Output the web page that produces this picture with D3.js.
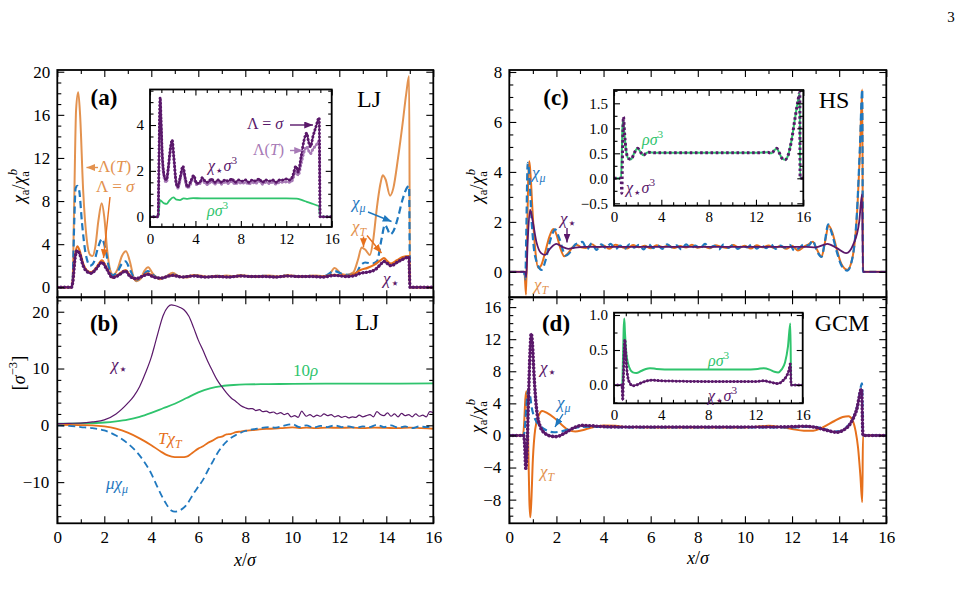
<!DOCTYPE html>
<html><head><meta charset="utf-8">
<script src="https://cdn.jsdelivr.net/npm/d3@7"></script>
<style>body{margin:0;background:#fff}</style>
</head><body><svg id="c" width="965" height="611"></svg>
<script>
// ---------------- DATA ----------------
// Panel (a) LJ, chi_a / chi_a^b
const aLamT = [[0,0],[0.6,0],[0.65,0.5],[0.72,8],[0.8,16.5],[0.89,18.1],[0.97,16],[1.1,9],[1.25,4.5],[1.4,3.0],[1.5,2.9],[1.62,3.8],[1.75,6.2],[1.89,7.8],[2.0,6.5],[2.12,3.5],[2.25,1.6],[2.38,1.15],[2.55,1.6],[2.75,2.9],[2.92,3.34],[3.1,2.3],[3.25,0.9],[3.38,0.56],[3.55,0.8],[3.7,1.5],[3.87,1.86],[4.05,1.3],[4.37,0.75],[4.6,0.95],[4.9,1.35],[5.2,1.0],[5.5,0.9],[5.9,1.15],[6.3,1.0],[6.8,0.95],[7.2,1.1],[7.6,1.0],[8.0,1.05],[8.5,0.95],[9,1.1],[9.5,1.0],[10,1.05],[10.5,1.0],[11,1.1],[11.5,1.0],[11.8,1.8],[12.05,1.3],[12.3,1.15],[12.6,1.4],[12.8,2.6],[12.95,3.7],[13.1,3.5],[13.3,3.0],[13.45,4.5],[13.6,7.4],[13.75,9.6],[13.85,10.4],[13.97,10.0],[14.16,8.5],[14.3,9.2],[14.5,12],[14.7,15.3],[14.85,18],[14.97,19.6],[15.01,0],[16,0]];
const aSigT = [[0,0],[0.6,0],[0.66,0.5],[0.75,2.8],[0.85,3.8],[0.95,3.4],[1.1,2.2],[1.3,1.5],[1.45,1.4],[1.65,1.8],[1.9,2.5],[2.1,1.8],[2.35,0.9],[2.6,1.2],[2.9,1.6],[3.1,1.1],[3.35,0.7],[3.6,1.0],[3.85,1.3],[4.1,1.0],[4.4,0.85],[4.9,1.15],[5.3,0.95],[5.8,1.1],[6.3,0.95],[6.8,1.05],[7.3,0.95],[7.8,1.1],[8.3,1.0],[8.8,1.05],[9.3,0.95],[9.8,1.1],[10.3,1.0],[10.8,1.05],[11.3,1.0],[11.8,1.15],[12.3,1.05],[12.6,1.2],[12.9,1.6],[13.2,1.8],[13.5,2.1],[13.75,2.5],[13.9,2.7],[14.05,2.4],[14.2,2.2],[14.45,2.5],[14.7,2.8],[14.96,2.9],[15.01,0],[16,0]];
const aMu = [[0,0],[0.6,0],[0.65,0.5],[0.72,6],[0.78,9.2],[0.85,9.4],[0.93,9.0],[1.05,6.0],[1.2,3.2],[1.4,2.0],[1.55,2.3],[1.75,3.8],[1.9,4.5],[2.05,3.5],[2.2,1.8],[2.35,1.1],[2.55,1.4],[2.75,2.2],[2.9,2.4],[3.1,1.6],[3.35,0.65],[3.6,1.0],[3.85,1.5],[4.1,1.1],[4.4,0.8],[4.9,1.2],[5.3,0.95],[5.8,1.1],[6.3,0.95],[6.8,1.05],[7.3,0.95],[7.8,1.1],[8.3,1.0],[8.8,1.05],[9.3,0.95],[9.8,1.1],[10.3,1.0],[10.8,1.05],[11.3,1.0],[11.8,1.5],[12.1,1.25],[12.4,1.15],[12.7,1.25],[12.9,2.0],[13.1,2.3],[13.4,2.2],[13.6,2.4],[13.8,4.5],[13.94,5.8],[14.05,5.4],[14.16,4.9],[14.3,5.2],[14.5,6.5],[14.7,8.2],[14.9,9.3],[14.97,9.4],[15.01,0],[16,0]];
const aStar = [[0,0],[0.6,0],[0.66,0.5],[0.75,2.6],[0.85,3.4],[0.95,3.1],[1.1,2.0],[1.3,1.4],[1.45,1.3],[1.65,1.7],[1.9,2.3],[2.1,1.7],[2.35,0.9],[2.6,1.1],[2.9,1.5],[3.1,1.0],[3.35,0.8],[3.6,1.0],[3.85,1.2],[4.1,0.95],[4.4,0.85],[4.9,1.1],[5.3,0.95],[5.8,1.05],[6.3,0.95],[6.8,1.0],[7.3,0.95],[7.8,1.05],[8.3,1.0],[8.8,1.0],[9.3,0.95],[9.8,1.05],[10.3,1.0],[10.8,1.0],[11.3,0.95],[11.8,1.1],[12.3,1.0],[12.6,1.05],[12.9,1.3],[13.2,1.4],[13.5,1.6],[13.75,2.1],[13.9,2.4],[14.05,2.2],[14.2,2.0],[14.45,2.3],[14.7,2.6],[14.96,2.8],[15.01,0],[16,0]];
// Inset (a)
const insASig = [[0,0],[0.72,0],[0.78,2],[0.85,4.5],[0.9,5.2],[0.97,4.3],[1.1,2.5],[1.3,1.7],[1.45,1.6],[1.6,2.1],[1.8,3.0],[1.95,3.35],[2.1,2.6],[2.3,1.5],[2.45,1.3],[2.65,1.7],[2.9,2.2],[3.1,1.7],[3.3,1.3],[3.55,1.5],[3.85,1.8],[4.1,1.45],[4.4,1.5],[4.6,1.7],[4.85,1.55],[5.1,1.5],[5.4,1.65],[5.7,1.5],[6,1.6],[6.3,1.5],[6.6,1.6],[6.9,1.55],[7.2,1.65],[7.5,1.5],[7.8,1.6],[8.1,1.55],[8.4,1.6],[8.7,1.5],[9,1.6],[9.3,1.55],[9.6,1.65],[9.9,1.5],[10.2,1.6],[10.5,1.55],[10.8,1.6],[11.1,1.5],[11.4,1.6],[11.7,1.6],[12.0,1.65],[12.3,1.6],[12.55,1.75],[12.85,2.2],[13.05,1.95],[13.3,2.6],[13.55,3.3],[13.8,3.65],[13.95,3.3],[14.13,3.05],[14.35,3.5],[14.6,3.9],[14.9,4.32],[14.98,0],[16,0]];
const insALamT = [[0,0],[0.72,0],[0.78,1.9],[0.85,4.3],[0.9,5.0],[0.97,4.1],[1.1,2.4],[1.3,1.6],[1.45,1.5],[1.6,2.0],[1.8,2.85],[1.95,3.2],[2.1,2.5],[2.3,1.45],[2.45,1.25],[2.65,1.6],[2.9,2.05],[3.1,1.6],[3.3,1.25],[3.55,1.4],[3.85,1.7],[4.1,1.4],[4.4,1.45],[4.6,1.6],[4.85,1.45],[5.1,1.4],[5.4,1.55],[5.7,1.42],[6,1.5],[6.3,1.42],[6.6,1.5],[6.9,1.45],[7.2,1.55],[7.5,1.42],[7.8,1.5],[8.1,1.45],[8.4,1.5],[8.7,1.42],[9,1.5],[9.3,1.45],[9.6,1.55],[9.9,1.42],[10.2,1.5],[10.5,1.45],[10.8,1.5],[11.1,1.42],[11.4,1.5],[11.7,1.5],[12.0,1.52],[12.3,1.5],[12.55,1.6],[12.85,2.0],[13.05,1.8],[13.3,2.3],[13.55,2.8],[13.8,3.05],[13.95,2.9],[14.13,2.75],[14.35,2.95],[14.6,3.1],[14.9,3.3],[14.98,0],[16,0]];
const insARho = [[0,0],[0.76,0],[0.82,0.45],[0.88,0.72],[1.0,0.68],[1.25,0.58],[1.47,0.56],[1.7,0.7],[2.05,0.84],[2.35,0.74],[2.64,0.72],[2.95,0.8],[3.3,0.78],[3.8,0.81],[4.5,0.8],[6,0.8],[8,0.8],[10,0.8],[12,0.8],[12.9,0.79],[13.4,0.72],[13.8,0.65],[14.2,0.58],[14.67,0.5],[14.88,0.45],[14.96,0],[16,0]];
// Panel (b) LJ, [sigma^-3]
const bStar = [[0,0.3],[0.5,0.35],[1,0.4],[1.5,0.6],[2,0.95],[2.5,2.0],[3,3.9],[3.25,5.1],[3.5,6.8],[3.75,9.2],[4,12.0],[4.15,14.2],[4.3,16.5],[4.5,19.3],[4.7,20.8],[4.85,21.2],[5.0,21.1],[5.2,20.8],[5.4,20.3],[5.6,19.2],[5.8,17.2],[6.0,15.0],[6.2,13.2],[6.4,11.3],[6.6,9.6],[6.8,8.0],[7.0,6.8],[7.2,5.7],[7.4,4.8],[7.6,4.2],[7.8,3.5],[8.0,3.1],[8.15,2.9],[8.3,2.95],[8.45,2.6],[8.6,2.75],[8.75,2.4],[8.9,2.5],[9.05,2.2],[9.2,2.35],[9.35,2.0],[9.5,2.25],[9.65,1.9],[9.8,2.1],[9.95,1.5],[10.1,1.7],[10.25,1.4],[10.4,2.5],[10.5,2.0],[10.6,1.6],[10.75,1.9],[10.9,1.5],[11.05,1.8],[11.2,1.6],[11.35,2.0],[11.5,1.7],[11.65,1.9],[11.8,1.5],[11.95,1.7],[12.1,1.4],[12.25,1.6],[12.4,1.3],[12.55,1.5],[12.7,1.4],[12.85,1.8],[13.0,1.5],[13.15,1.7],[13.3,1.9],[13.45,1.5],[13.6,2.4],[13.75,1.9],[13.9,1.7],[14.05,2.2],[14.2,1.6],[14.35,2.0],[14.5,1.5],[14.65,2.1],[14.8,1.7],[14.95,1.9],[15.1,1.5],[15.25,2.0],[15.4,1.6],[15.55,1.8],[15.7,1.5],[15.85,2.4],[16,2.2]];
const bRho10 = [[0,0.3],[1,0.35],[2,0.5],[2.5,0.7],[3,1.0],[3.5,1.5],[4,2.2],[4.5,3.0],[5,3.8],[5.5,4.8],[6,5.8],[6.5,6.5],[7,6.9],[7.5,7.1],[8,7.2],[9,7.25],[10,7.3],[12,7.35],[14,7.35],[16,7.4]];
const bTchi = [[0,0.1],[1,0.05],[1.5,0],[2,-0.2],[2.5,-0.6],[3,-1.3],[3.5,-2.3],[4,-3.5],[4.4,-4.6],[4.7,-5.3],[5,-5.6],[5.3,-5.6],[5.5,-5.5],[5.7,-5.0],[6.0,-4.1],[6.2,-3.7],[6.4,-3.1],[6.6,-2.7],[6.8,-2.2],[7.0,-2.0],[7.2,-1.6],[7.4,-1.5],[7.6,-1.2],[7.8,-1.1],[8.0,-0.95],[8.3,-0.85],[8.6,-0.7],[9,-0.6],[9.5,-0.5],[10,-0.35],[10.3,-0.5],[10.6,-0.4],[11,-0.5],[11.5,-0.4],[12,-0.45],[12.5,-0.4],[13,-0.5],[13.5,-0.4],[14,-0.45],[14.5,-0.5],[15,-0.4],[15.5,-0.5],[16,-0.6]];
const bMuChi = [[0,0],[0.5,-0.1],[1,-0.3],[1.5,-0.5],[2,-0.9],[2.5,-1.8],[3,-3.2],[3.5,-5.3],[4,-8.5],[4.3,-11.2],[4.6,-13.6],[4.85,-15.0],[5.0,-15.2],[5.2,-15.0],[5.5,-14.0],[5.8,-12.0],[6.0,-10.8],[6.2,-9.6],[6.4,-8.0],[6.6,-6.5],[6.8,-5.0],[7.0,-3.8],[7.3,-2.5],[7.6,-1.7],[8,-1.0],[8.5,-0.6],[9,-0.3],[9.3,-0.4],[9.6,-0.1],[10,0.2],[10.3,-0.3],[10.6,0.0],[10.9,-0.4],[11.2,-0.1],[11.5,-0.3],[11.8,0.0],[12.1,-0.3],[12.4,-0.2],[12.7,-0.4],[13.0,-0.2],[13.3,-0.3],[13.6,0.1],[13.9,-0.3],[14.2,0.0],[14.5,-0.4],[14.8,-0.2],[15.1,-0.5],[15.4,-0.2],[15.7,-0.3],[16,-0.1]];
// Panel (c) HS
const cT = [[0,0],[0.64,0],[0.71,-0.92],[0.76,1.5],[0.8,3.6],[0.85,4.43],[0.9,3.9],[1.0,2.2],[1.1,0.9],[1.23,0.15],[1.35,0.25],[1.5,0.7],[1.7,1.4],[1.87,1.71],[2.0,1.5],[2.15,1.0],[2.33,0.62],[2.5,0.75],[2.7,1.0],[2.86,1.08],[3.05,0.98],[3.25,0.95],[3.5,1.1],[3.75,0.97],[4.0,1.05],[4.25,0.92],[4.5,1.08],[4.75,1.0],[5.0,0.93],[5.25,1.07],[5.5,0.98],[5.75,1.04],[6.0,0.94],[6.25,1.06],[6.5,0.99],[6.75,1.05],[7.0,0.95],[7.25,1.03],[7.5,0.97],[7.75,1.08],[8.0,0.96],[8.25,1.02],[8.5,0.94],[8.75,1.06],[9.0,1.0],[9.25,0.95],[9.5,1.07],[9.75,0.97],[10.0,1.04],[10.25,0.93],[10.5,1.06],[10.75,0.98],[11.0,1.05],[11.25,0.95],[11.5,1.03],[11.75,0.92],[12.0,1.04],[12.25,0.85],[12.5,1.0],[12.7,1.1],[12.88,1.2],[13.05,0.9],[13.25,0.6],[13.4,1.2],[13.55,1.85],[13.7,1.6],[13.9,0.9],[14.1,0.3],[14.35,0.08],[14.55,0.5],[14.75,2.2],[14.88,4.8],[14.98,7.3],[15.01,0],[16,0]];
const cMu = [[0,0],[0.62,0],[0.68,-0.3],[0.72,1.5],[0.78,4.36],[0.84,4.0],[0.95,2.0],[1.1,0.6],[1.37,0.08],[1.55,0.5],[1.75,1.3],[1.95,1.7],[2.1,1.4],[2.4,0.65],[2.6,0.8],[2.8,1.1],[2.95,1.15],[3.1,1.2],[3.3,0.9],[3.5,1.15],[3.7,0.88],[3.9,1.1],[4.1,0.95],[4.3,1.12],[4.5,0.9],[4.7,1.05],[4.9,0.92],[5.1,1.1],[5.3,0.97],[5.5,1.08],[5.7,0.9],[5.9,1.12],[6.1,0.95],[6.3,1.05],[6.5,0.92],[6.7,1.1],[6.9,0.98],[7.1,1.06],[7.3,0.9],[7.5,1.1],[7.7,0.95],[7.9,1.05],[8.1,0.93],[8.3,1.12],[8.5,0.97],[8.7,1.04],[8.9,0.9],[9.1,1.1],[9.3,0.96],[9.5,1.08],[9.7,0.92],[9.9,1.05],[10.1,0.98],[10.3,1.1],[10.5,0.93],[10.7,1.06],[10.9,0.95],[11.1,1.1],[11.3,0.92],[11.5,1.05],[11.7,0.97],[11.9,1.08],[12.1,0.85],[12.3,0.95],[12.5,1.1],[12.7,1.05],[12.88,1.25],[13.05,0.85],[13.25,0.6],[13.4,1.25],[13.53,1.9],[13.7,1.5],[13.9,0.8],[14.1,0.25],[14.35,0.05],[14.55,0.5],[14.75,2.3],[14.88,5.0],[14.98,7.3],[15.01,0],[16,0]];
const cStar = [[0,0],[0.68,0],[0.72,-0.2],[0.78,1.2],[0.88,2.49],[0.98,2.1],[1.15,1.2],[1.35,0.75],[1.52,0.68],[1.75,0.95],[2.0,1.12],[2.25,1.0],[2.5,0.92],[2.8,0.97],[3.2,1.0],[4,1.0],[6,1.0],[8,1.0],[10,1.0],[12,1.0],[12.6,1.0],[13.0,0.98],[13.5,1.12],[13.9,0.95],[14.3,0.75],[14.6,1.1],[14.85,2.0],[14.97,3.1],[15.01,0],[16,0]];
// Inset (c)
const insCRho = [[0,0],[0.6,0],[0.66,0.5],[0.72,1.05],[0.79,1.15],[0.86,0.95],[1.0,0.6],[1.2,0.4],[1.45,0.38],[1.7,0.5],[2.0,0.6],[2.25,0.52],[2.48,0.46],[2.7,0.5],[2.9,0.52],[3.5,0.51],[6,0.51],[9,0.51],[12,0.51],[13.0,0.52],[13.3,0.5],[13.55,0.56],[13.75,0.6],[13.95,0.52],[14.2,0.4],[14.45,0.37],[14.7,0.45],[15.0,0.75],[15.3,1.2],[15.55,1.55],[15.7,1.7],[15.73,0],[16,0]];
const insCStar = [[0,0],[0.6,0],[0.66,-0.3],[0.72,0.5],[0.8,1.23],[0.88,0.95],[1.0,0.6],[1.2,0.4],[1.45,0.38],[1.7,0.5],[2.0,0.6],[2.25,0.52],[2.48,0.46],[2.7,0.5],[2.9,0.52],[3.5,0.51],[6,0.51],[9,0.51],[12,0.51],[13.0,0.52],[13.3,0.5],[13.55,0.56],[13.75,0.6],[13.95,0.52],[14.2,0.4],[14.45,0.37],[14.7,0.45],[15.0,0.75],[15.3,1.2],[15.55,1.55],[15.7,1.72],[15.73,0],[16,0]];
// Panel (d) GCM
const dT = [[0,0],[0.58,0],[0.63,1.5],[0.68,4.5],[0.73,5.5],[0.77,3.5],[0.81,-2.0],[0.85,-8.0],[0.89,-10.2],[0.93,-8.5],[1.0,-3.0],[1.1,0.8],[1.25,2.5],[1.4,3.05],[1.6,2.8],[1.9,2.2],[2.2,1.4],[2.5,0.7],[2.8,0.5],[3.1,0.65],[3.5,1.0],[4.0,1.25],[4.5,1.2],[5,1.05],[6,1.0],[8,1.0],[10,1.0],[10.5,1.1],[11.0,1.2],[11.5,1.05],[12.0,0.8],[12.5,0.6],[12.9,0.6],[13.3,1.0],[13.8,1.8],[14.15,2.3],[14.4,2.4],[14.55,2.0],[14.7,0.5],[14.8,-1.5],[14.9,-5.0],[14.98,-8.3],[15.01,0],[16,0]];
const dMu = [[0,0],[0.6,0],[0.65,0.5],[0.72,3.5],[0.8,5.6],[0.86,5.3],[0.95,3.5],[1.1,2.0],[1.3,1.2],[1.6,0.6],[1.9,0.4],[2.2,0.5],[2.6,0.85],[3.0,1.05],[3.5,1.1],[4,1.05],[6,1.0],[10,1.0],[12,1.0],[12.7,1.1],[13.3,0.9],[13.7,0.5],[14.0,0.5],[14.3,1.0],[14.6,2.2],[14.8,4.0],[14.97,6.5],[15.01,0],[16,0]];
const dStar = [[0,0],[0.6,0],[0.65,-1.0],[0.7,-4.1],[0.75,-2.0],[0.82,5.0],[0.88,10.5],[0.93,12.7],[0.98,11.5],[1.05,7.5],[1.15,3.5],[1.3,1.2],[1.5,0.3],[1.8,-0.1],[2.0,-0.15],[2.3,0.2],[2.7,0.9],[3.1,1.25],[3.5,1.2],[4,1.1],[5,1.05],[8,1.05],[11,1.05],[12,1.1],[12.6,1.15],[13.0,1.0],[13.4,0.7],[13.9,0.4],[14.2,0.7],[14.5,1.6],[14.75,3.3],[14.95,5.8],[15.01,0],[16,0]];
// Inset (d)
const insDRho = [[0,0],[0.7,0],[0.75,0.3],[0.82,0.8],[0.87,0.95],[0.93,0.75],[1.05,0.45],[1.3,0.25],[1.6,0.18],[1.9,0.17],[2.3,0.2],[2.7,0.23],[3.05,0.24],[3.6,0.23],[5,0.22],[8,0.22],[11,0.22],[12.2,0.23],[12.7,0.24],[13.2,0.22],[13.6,0.19],[13.93,0.18],[14.2,0.22],[14.5,0.32],[14.75,0.55],[14.95,0.88],[15.02,0],[16,0]];
const insDStar = [[0,0],[0.68,0],[0.74,-0.22],[0.8,0.1],[0.87,0.5],[0.92,0.65],[0.98,0.5],[1.1,0.2],[1.3,0.04],[1.6,-0.01],[1.9,0.0],[2.3,0.03],[2.8,0.06],[3.2,0.07],[4,0.06],[8,0.05],[12,0.05],[12.7,0.06],[13.3,0.04],[13.9,0.02],[14.3,0.06],[14.6,0.12],[14.85,0.22],[14.95,0.3],[15.02,0],[16,0]];

// Tick labels
const xTicks = [0,2,4,6,8,10,12,14,16];
const insXTicks = [0,4,8,12,16];
const aYTicks = [0,4,8,12,16,20];
const bYTicks = [-10,0,10,20];
const cYTicks = [0,2,4,6,8];
const dYTicks = [-8,-4,0,4,8,12,16];
const insAYTicks = [0,2,4];
const insCYTicks = [-0.5,0,0.5,1.0,1.5];
const insDYTicks = [0,0.5,1.0];

// ---------------- DRAWING ----------------
const FONT = "'Liberation Serif','DejaVu Serif',serif";
const COL = {blue:"#1f78bf", orange:"#e6701c", lorange:"#e3924f", purple:"#5a186a", lpurple:"#a77ab6", green:"#2fc46d"};
const svg = d3.select("#c");
const defs = svg.append("defs");
let clipN = 0;

function marker(color){
  const id = "m" + color.slice(1);
  if (defs.select("#"+id).empty()){
    defs.append("marker").attr("id", id).attr("viewBox","0 0 10 8").attr("refX",10).attr("refY",4)
      .attr("markerWidth",9).attr("markerHeight",7).attr("markerUnits","userSpaceOnUse").attr("orient","auto")
      .append("path").attr("d","M0,0 L10,4 L0,8 Z").attr("fill", color);
  }
  return "url(#"+id+")";
}
function arrow(g,x1,y1,x2,y2,color){
  g.append("line").attr("x1",x1).attr("y1",y1).attr("x2",x2).attr("y2",y2)
   .attr("stroke",color).attr("stroke-width",1.4).attr("marker-end",marker(color));
}
function mt(g,x,y,parts,size,color,opt){
  opt = opt||{};
  const t = g.append("text").attr("x",x).attr("y",y).attr("font-family",FONT).attr("font-size",size)
    .attr("fill",color||"#000").attr("text-anchor",opt.anchor||"start");
  if (opt.rot) t.attr("transform",`rotate(${opt.rot} ${x} ${y})`);
  let cur = 0;
  parts.forEach(p=>{
    const s=p[0], f=p[1]||"";
    const sub=f.includes("b"), sup=f.includes("p");
    let fs=(sub||sup)?size*0.7:size;
    const shift=sub?size*0.22:(sup?-size*0.42:0);
    const ts=t.append("tspan").text(s).attr("dy",shift-cur);
    if (s==="⋆"){ fs=size*0.85; ts.attr("font-family","'DejaVu Sans',sans-serif"); }
    ts.attr("font-size",fs);
    cur=shift;
    if (f.includes("i")) ts.attr("font-style","italic");
    if (f.includes("B")) ts.attr("font-weight","bold");
    const m=f.match(/k([\d.]+)/); if(m) ts.attr("dx",-parseFloat(m[1]));
  });
  return t;
}
function minorVals(lo,hi,step,majors){
  return d3.range(Math.ceil(lo/step)*step, hi+1e-9, step).map(v=>+v.toFixed(4))
    .filter(v=>!majors.some(m=>Math.abs(m-v)<1e-6));
}
function panel(cfg){
  const x=d3.scaleLinear().domain(cfg.xd).range([cfg.x0,cfg.x1]);
  const y=d3.scaleLinear().domain(cfg.yd).range([cfg.y1,cfg.y0]);
  const g=svg.append("g");
  if (cfg.fill) g.append("rect").attr("x",cfg.x0).attr("y",cfg.y0).attr("width",cfg.x1-cfg.x0).attr("height",cfg.y1-cfg.y0).attr("fill","#fff");
  const id="clip"+(clipN++);
  defs.append("clipPath").attr("id",id).append("rect").attr("x",cfg.x0).attr("y",cfg.y0).attr("width",cfg.x1-cfg.x0).attr("height",cfg.y1-cfg.y0);
  const plot=g.append("g").attr("clip-path",`url(#${id})`);
  return {x,y,g,plot,cfg};
}
function finish(P){
  const c=P.cfg, g=P.g.append("g");
  const maj=c.maj||7, mn=c.mn||4, fs=c.fs||17, pad=c.pad||7;
  const put=(fn,scale,vals,len,fmt,tr)=>{
    const a=g.append("g").attr("transform",tr).call(fn(scale).tickValues(vals).tickSize(-len).tickPadding(pad).tickFormat(fmt));
    a.select(".domain").remove();
    a.selectAll("line").attr("stroke","#000").attr("stroke-width",1.1);
    a.selectAll("text").attr("font-family",FONT).attr("font-size",fs).attr("fill","#000");
  };
  const xMin=minorVals(c.xd[0],c.xd[1],c.xMinStep,c.xMaj), yMin=minorVals(c.yd[0],c.yd[1],c.yMinStep,c.yMaj);
  const none=()=>"";
  put(d3.axisBottom,P.x,c.xMaj,maj,c.xLab?c.xFmt||d3.format("d"):none,`translate(0,${c.y1})`);
  put(d3.axisBottom,P.x,xMin,mn,none,`translate(0,${c.y1})`);
  put(d3.axisTop,P.x,c.xMaj,maj,none,`translate(0,${c.y0})`);
  put(d3.axisTop,P.x,xMin,mn,none,`translate(0,${c.y0})`);
  put(d3.axisLeft,P.y,c.yMaj,maj,c.yFmt||d3.format("d"),`translate(${c.x0},0)`);
  put(d3.axisLeft,P.y,yMin,mn,none,`translate(${c.x0},0)`);
  put(d3.axisRight,P.y,c.yMaj,maj,none,`translate(${c.x1},0)`);
  put(d3.axisRight,P.y,yMin,mn,none,`translate(${c.x1},0)`);
  g.append("rect").attr("x",c.x0).attr("y",c.y0).attr("width",c.x1-c.x0).attr("height",c.y1-c.y0)
   .attr("fill","none").attr("stroke","#000").attr("stroke-width",1.8);
}
function line(P,data,o){
  const gen=d3.line().x(d=>P.x(d[0])).y(d=>P.y(d[1])).curve(d3.curveMonotoneX);
  const p=P.plot.append("path").datum(data).attr("d",gen).attr("fill","none").attr("stroke",o.color)
    .attr("stroke-width",o.w||2).attr("stroke-linejoin","round");
  if (o.dash) p.attr("stroke-dasharray",o.dash);
  if (o.dots) P.plot.append("path").datum(data).attr("d",gen).attr("fill","none").attr("stroke",o.dcolor||o.color)
    .attr("stroke-width",o.dots).attr("stroke-linecap",o.cap||"round").attr("stroke-dasharray",o.dd||"0.01,3.6");
}

// ----- Panel (a) -----
const PA = panel({x0:57.3,x1:433.3,y0:70,y1:297.3,xd:[0,16],yd:[-0.93,20.16],xMaj:xTicks,xMinStep:1,yMaj:aYTicks,yMinStep:1,xLab:false});
line(PA,aLamT,{color:COL.lorange,w:2});
line(PA,aMu,{color:COL.blue,w:2.2,dash:"7,4"});
line(PA,aSigT,{color:COL.orange,w:2.2});
line(PA,aStar,{color:COL.purple,w:1.8,dots:3.4});
finish(PA);
mt(svg,104,105,[["(a)","B"]],23,"#000",{anchor:"middle"});
mt(svg,369,107,[["LJ",""]],24,"#000",{anchor:"middle"});
arrow(svg,98,167.5,86.5,167.5,COL.lorange);
mt(svg,98,172,[["Λ(",""],["T","i"],[")",""]],17,COL.lorange);
mt(svg,96,192,[["Λ = ",""],["σ","i"]],17,COL.lorange);
arrow(svg,110,197,103.5,258,COL.orange);
mt(svg,352,208,[["χ","i"],["μ","bi"]],17,COL.blue);
arrow(svg,368,212,391.5,221.5,COL.blue);
mt(svg,352,232,[["χ","i"],["T","bi"]],17,COL.lorange);
arrow(svg,363.5,236.5,363.5,247,COL.orange);
arrow(svg,367,235.5,381.5,253,COL.orange);
mt(svg,383,284,[["χ","i"],["⋆","b"]],17,COL.purple);

// inset (a)
const IA = panel({x0:150,x1:331.7,y0:89.5,y1:227,xd:[0,16],yd:[-0.45,5.55],xMaj:insXTicks,xMinStep:1,yMaj:insAYTicks,yMinStep:0.5,xLab:true,fs:15,maj:6,mn:3.5,pad:6,fill:true});
line(IA,insARho,{color:COL.green,w:1.8});
line(IA,insALamT,{color:COL.lpurple,w:1.6,dots:3});
line(IA,insASig,{color:COL.purple,w:1.6,dots:3});
finish(IA);
mt(svg,247,129,[["Λ = ",""],["σ","i"]],16,COL.purple);
arrow(svg,290,125,313,125,COL.purple);
mt(svg,253,155,[["Λ(",""],["T","i"],[")",""]],16,COL.lpurple);
arrow(svg,290,150.5,303,150.5,COL.lpurple);
mt(svg,208,171,[["χ","i"],["⋆","b"],["σ","i"],["3","p"]],16,COL.purple);
mt(svg,207,216,[["ρσ","i"],["3","p"]],16,COL.green);

// ----- Panel (b) -----
const PB = panel({x0:57.3,x1:433.3,y0:297.3,y1:523.3,xd:[0,16],yd:[-17.25,22.54],xMaj:xTicks,xMinStep:1,yMaj:bYTicks,yMinStep:2,xLab:true,pad:8});
line(PB,bRho10,{color:COL.green,w:1.8});
line(PB,bTchi,{color:COL.orange,w:1.8});
line(PB,bMuChi,{color:COL.blue,w:1.8,dash:"7,4"});
line(PB,bStar,{color:COL.purple,w:1.2});
finish(PB);
mt(svg,104,331,[["(b)","B"]],23,"#000",{anchor:"middle"});
mt(svg,367,330,[["LJ",""]],24,"#000",{anchor:"middle"});
mt(svg,111,370,[["χ","i"],["⋆","b"]],17,COL.purple);
mt(svg,293,376,[["10",""],["ρ","i"]],17,COL.green);
mt(svg,158,444,[["Tχ","i"],["T","bi"]],17,COL.orange);
mt(svg,106,489,[["μχ","i"],["μ","bi"]],17,COL.blue);
mt(svg,245,566,[["x","i"],["/",""],["σ","i"]],18,"#000",{anchor:"middle"});
mt(svg,25,186,[["χ","i"],["a","b"],["/",""],["χ","i"],["a","b"],["b","pik4.2"]],18,"#000",{anchor:"middle",rot:-90});
mt(svg,25,373,[["[",""],["σ","i"],["−3","p"],["]",""]],18,"#000",{anchor:"middle",rot:-90});

// ----- Panel (c) -----
const PC = panel({x0:509.3,x1:886.3,y0:70,y1:297.3,xd:[0,16],yd:[-1.02,8.08],xMaj:xTicks,xMinStep:1,yMaj:cYTicks,yMinStep:0.5,xLab:false});
line(PC,cT,{color:COL.orange,w:2});
line(PC,cMu,{color:COL.blue,w:2.2,dash:"7,4"});
line(PC,cStar,{color:COL.purple,w:1.8});
finish(PC);
mt(svg,556,105,[["(c)","B"]],23,"#000",{anchor:"middle"});
mt(svg,834,108,[["HS",""]],24,"#000",{anchor:"middle"});
mt(svg,532,178,[["χ","i"],["μ","bi"]],17,COL.blue);
mt(svg,534,290,[["χ","i"],["T","bi"]],17,COL.lorange);
mt(svg,560,224,[["χ","i"],["⋆","b"]],17,COL.purple);
arrow(svg,567,228,567,242.5,COL.purple);
mt(svg,483,186,[["χ","i"],["a","b"],["/",""],["χ","i"],["a","b"],["b","pik4.2"]],18,"#000",{anchor:"middle",rot:-90});

// inset (c)
const IC = panel({x0:614,x1:803.3,y0:90,y1:205.7,xd:[0,16],yd:[-0.548,1.766],xMaj:insXTicks,xMinStep:1,yMaj:insCYTicks,yMinStep:0.25,xLab:true,fs:15,maj:6,mn:3.5,pad:6,fill:true,yFmt:d3.format(".1f")});
line(IC,insCRho,{color:COL.green,w:2});
line(IC,insCStar,{color:COL.purple,w:0.01,dots:3,dd:"2.6,2.6",cap:"butt"});
finish(IC);
mt(svg,642,145,[["ρσ","i"],["3","p"]],16,COL.green);
mt(svg,626,193,[["χ","i"],["⋆","b"],["σ","i"],["3","p"]],16,COL.purple);

// ----- Panel (d) -----
const PD = panel({x0:509.3,x1:886.3,y0:297.3,y1:523.3,xd:[0,16],yd:[-10.95,17.22],xMaj:xTicks,xMinStep:1,yMaj:dYTicks,yMinStep:1,xLab:true,pad:8});
line(PD,dT,{color:COL.orange,w:2});
line(PD,dMu,{color:COL.blue,w:2.2,dash:"7,4"});
line(PD,dStar,{color:COL.purple,w:1.8,dots:3.6});
finish(PD);
mt(svg,556,331,[["(d)","B"]],23,"#000",{anchor:"middle"});
mt(svg,842,331,[["GCM",""]],24,"#000",{anchor:"middle"});
mt(svg,540,373,[["χ","i"],["⋆","b"]],17,COL.purple);
mt(svg,557,408,[["χ","i"],["μ","bi"]],17,COL.blue);
arrow(svg,563,414,555,427,COL.blue);
mt(svg,540,477,[["χ","i"],["T","bi"]],17,COL.lorange);
mt(svg,698,564,[["x","i"],["/",""],["σ","i"]],18,"#000",{anchor:"middle"});
mt(svg,483,416,[["χ","i"],["a","b"],["/",""],["χ","i"],["a","b"],["b","pik4.2"]],18,"#000",{anchor:"middle",rot:-90});

// inset (d)
const ID = panel({x0:614,x1:802.7,y0:312.7,y1:403.3,xd:[0,16],yd:[-0.261,1.033],xMaj:insXTicks,xMinStep:1,yMaj:insDYTicks,yMinStep:0.25,xLab:true,fs:15,maj:6,mn:3.5,pad:6,fill:true,yFmt:d3.format(".1f")});
line(ID,insDRho,{color:COL.green,w:2});
line(ID,insDStar,{color:COL.purple,w:1.6,dots:3});
finish(ID);
mt(svg,708,366,[["ρσ","i"],["3","p"]],16,COL.green);
mt(svg,708,401,[["χ","i"],["⋆","b"],["σ","i"],["3","p"]],16,COL.purple);

// page number
mt(svg,951,22,[["3",""]],15,"#000",{anchor:"middle"});
</script></body></html>
